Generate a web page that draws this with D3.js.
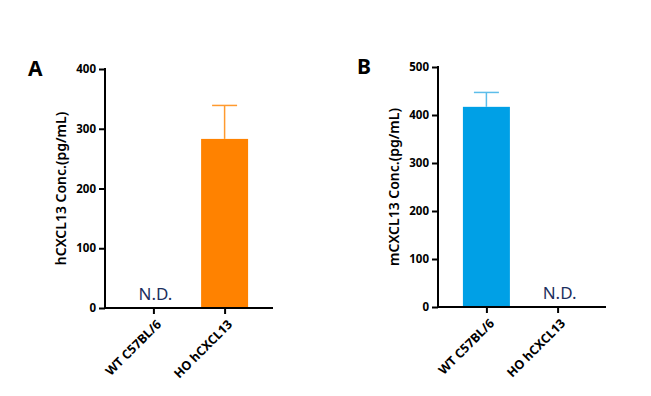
<!DOCTYPE html>
<html>
<head>
<meta charset="utf-8">
<script src="https://cdn.jsdelivr.net/npm/d3@7"></script>
<style>
  body { margin: 0; background: #fff; }
  text { font-family: "Noto Sans", "Open Sans", sans-serif; }
</style>
</head>
<body>
<div id="chart"></div>
<script>
// categories and values
const groups = ["WT C57BL/6", "HO hCXCL13"];
const humanMean = [null, 283];   // null = not detected
const humanErr = [null, 56];
const mouseMean = [417, null];
const mouseErr = [30, null];
const humanTicks = [0, 100, 200, 300, 400];
const mouseTicks = [0, 100, 200, 300, 400, 500];

const svg = d3.select("#chart").append("svg")
    .attr("width", 651)
    .attr("height", 396);

function drawPanel(opt) {
    let g = svg.append("g")
        .attr("transform", "translate(" + opt.x + "," + opt.y + ")");

    let y = d3.scaleLinear()
        .domain([0, opt.max])
        .range([0, -opt.h]);

    let x = d3.scalePoint()
        .domain(groups)
        .range([0, 168])
        .padding(0.68);
    let step = x.step();
    let bw = step * 0.66;

    // bars
    g.selectAll("rect.bar")
        .data(groups.filter((d, i) => opt.mean[i] != null))
        .enter()
        .append("rect")
        .attr("class", "bar")
        .attr("x", d => x(d) - bw / 2)
        .attr("width", bw)
        .attr("y", d => y(opt.mean[groups.indexOf(d)]))
        .attr("height", d => -y(opt.mean[groups.indexOf(d)]))
        .attr("fill", opt.color);

    // error bars (upper only)
    groups.forEach((d, i) => {
        if (opt.mean[i] == null) return;
        let top = y(opt.mean[i] + opt.err[i]);
        g.append("line")
            .attr("x1", x(d)).attr("x2", x(d))
            .attr("y1", y(opt.mean[i])).attr("y2", top)
            .attr("stroke", opt.errColor)
            .attr("stroke-width", 1.5);
        g.append("line")
            .attr("x1", x(d) - 12.5).attr("x2", x(d) + 12.5)
            .attr("y1", top).attr("y2", top)
            .attr("stroke", opt.errColor)
            .attr("stroke-width", 1.5);
    });

    // N.D. labels
    groups.forEach((d, i) => {
        if (opt.mean[i] != null) return;
        g.append("text")
            .attr("x", x(d) + 2)
            .attr("y", -8)
            .attr("text-anchor", "middle")
            .attr("font-size", 17)
            .attr("fill", "#1c2f5e")
            .text("N.D.");
    });

    // y axis
    let yAxis = g.append("g")
        .call(d3.axisLeft(y).tickValues(opt.ticks).tickSize(6).tickPadding(3).tickSizeOuter(0));
    yAxis.select(".domain").attr("stroke-width", 2).attr("d", "M0,1V" + (-opt.h - 1));
    yAxis.selectAll(".tick line").attr("stroke-width", 2);
    yAxis.selectAll(".tick text")
        .attr("font-size", 11.5)
        .attr("font-weight", 700)
        .attr("fill", "#000");

    // x axis
    let xAxis = g.append("g")
        .call(d3.axisBottom(x).tickSize(6).tickSizeOuter(0));
    xAxis.select(".domain").attr("stroke-width", 2).attr("d", "M-1,0H168");
    xAxis.selectAll(".tick line").attr("stroke-width", 2);
    xAxis.selectAll(".tick text")
        .attr("font-size", 12.5)
        .attr("font-weight", 700)
        .attr("fill", "#000")
        .attr("text-anchor", "end")
        .attr("transform", "translate(5,14) rotate(-45)")
        .attr("dy", "0.35em")
        .attr("y", 0)
        .attr("x", 0);

    // axis title
    g.append("text")
        .attr("transform", "translate(-39," + (-opt.h / 2) + ") rotate(-90)")
        .attr("text-anchor", "middle")
        .attr("font-size", 14)
        .attr("font-weight", 600)
        .text(opt.title);

    // panel letter
    g.append("text")
        .attr("x", opt.letterX)
        .attr("y", -opt.h + 7)
        .attr("font-size", 21)
        .attr("font-weight", 700)
        .text(opt.letter);
}

drawPanel({
    x: 105, y: 308, h: 239, max: 400,
    ticks: humanTicks, mean: humanMean, err: humanErr,
    color: "#ff8200", errColor: "#ff9a2e",
    title: "hCXCL13 Conc.(pg/mL)", letter: "A", letterX: -77
});

drawPanel({
    x: 438, y: 307, h: 240, max: 500,
    ticks: mouseTicks, mean: mouseMean, err: mouseErr,
    color: "#00a0e6", errColor: "#5cbdea",
    title: "mCXCL13 Conc.(pg/mL)", letter: "B", letterX: -81
});
</script>
</body>
</html>
